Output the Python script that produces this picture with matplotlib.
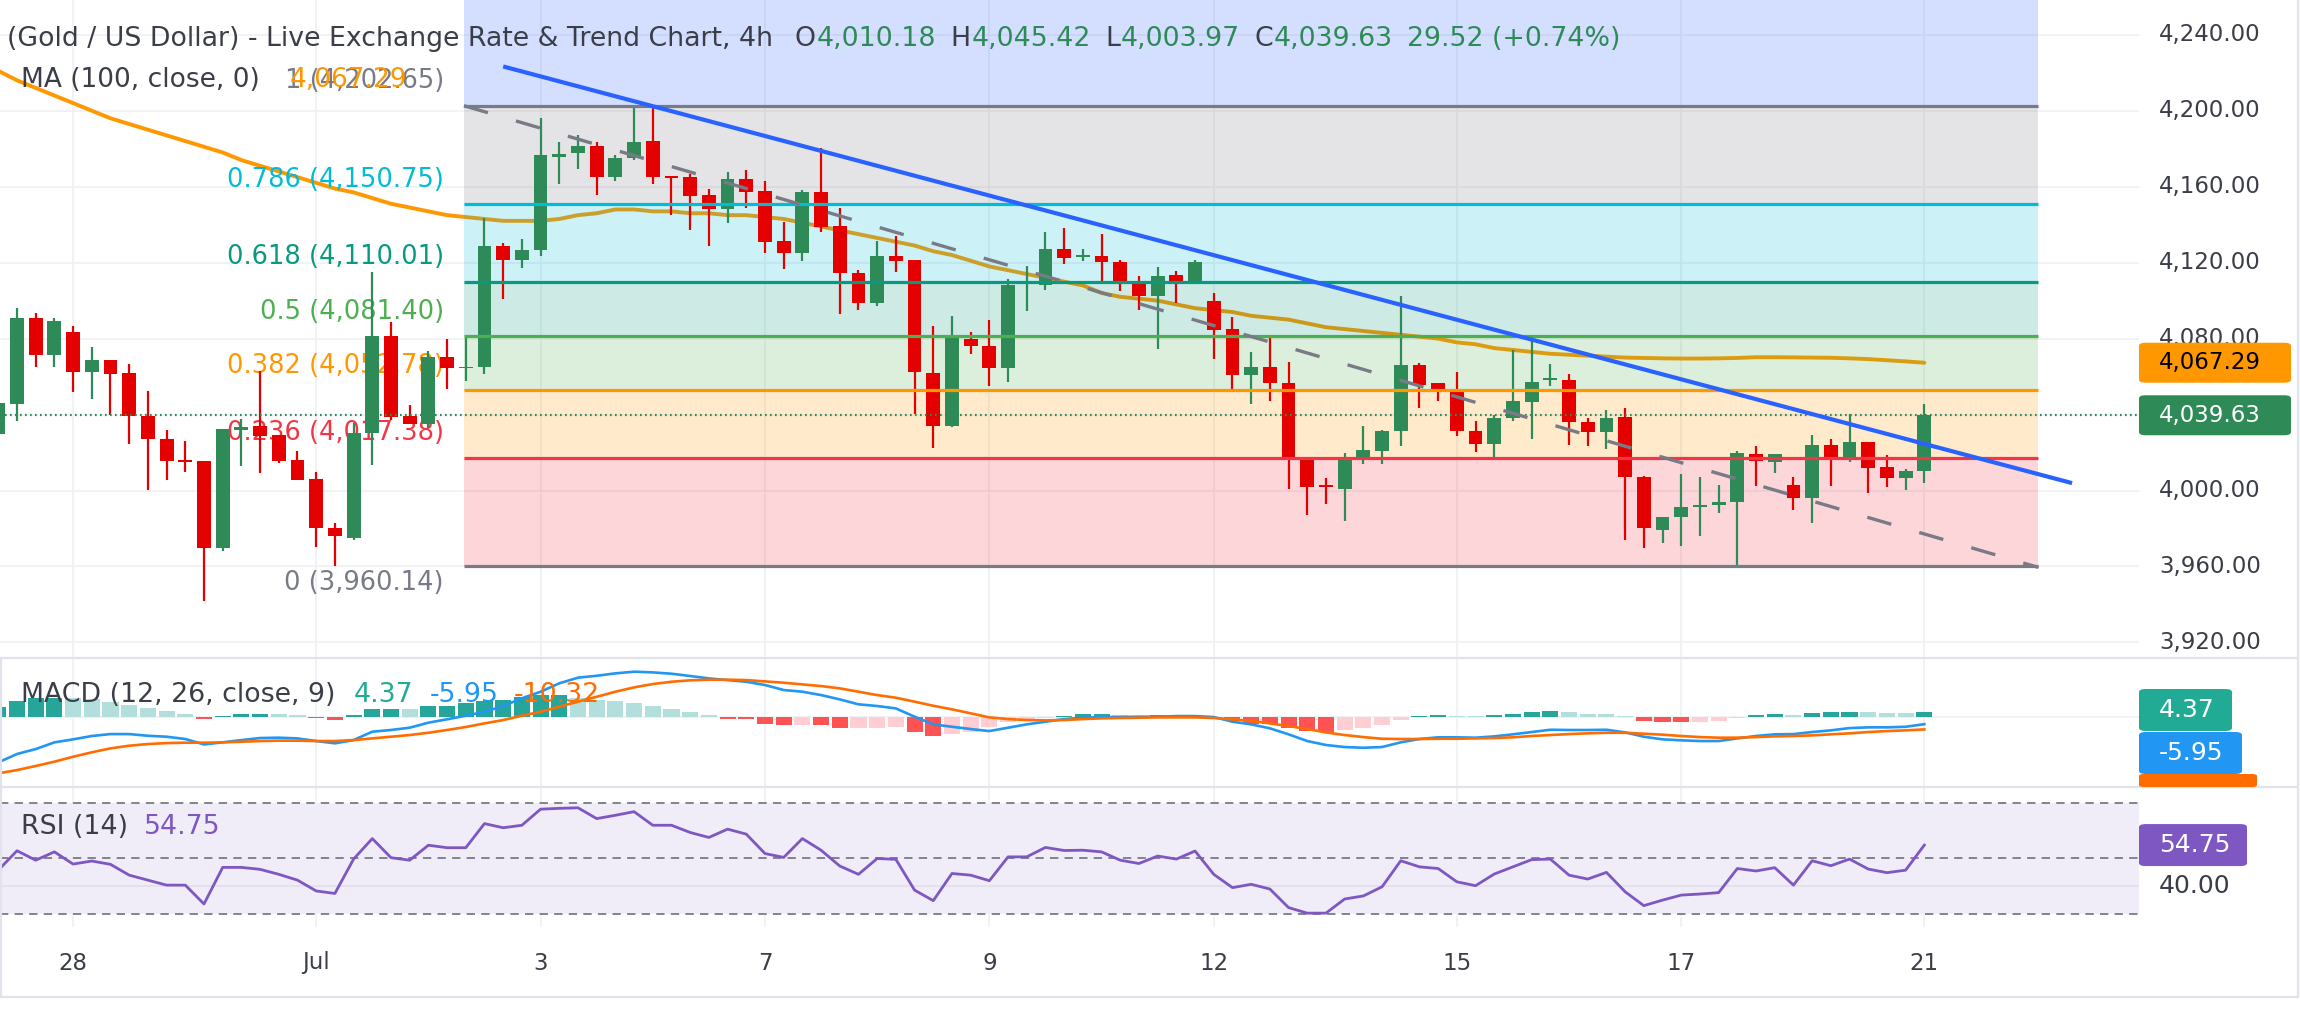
import matplotlib
matplotlib.use("Agg")
import matplotlib.pyplot as plt
import matplotlib.transforms as mtrans
from matplotlib.patches import FancyBboxPatch
from matplotlib.lines import Line2D

plt.rcParams['font.family'] = ['DejaVu Sans']
plt.rcParams['lines.scale_dashes'] = False

# ---------------- data ----------------
candle_idx = list(range(-1, 103))
opens = [4030.0, 4045.8, 4090.8, 4071.4, 4083.6, 4062.5, 4068.8, 4062.0, 4039.1, 4027.3,
         4015.9, 4015.3, 3969.5, 4032.0, 4033.9, 4029.3, 4016.2, 4006.3, 3980.4, 3974.9,
         4030.3, 4081.4, 4039.1, 4034.9, 4070.3, 4064.5, 4065.3, 4128.6, 4121.2, 4126.6,
         4175.5, 4177.8, 4181.5, 4164.9, 4175.0, 4184.0, 4165.5, 4164.9, 4155.6, 4148.4,
         4164.3, 4157.7, 4131.4, 4124.9, 4157.2, 4139.3, 4114.5, 4098.7, 4123.6, 4121.5,
         4062.0, 4034.0, 4080.0, 4076.3, 4064.4, 4108.9, 4108.3, 4127.2, 4123.5, 4123.6,
         4120.4, 4109.2, 4102.2, 4113.4, 4108.5, 4099.8, 4085.1, 4060.7, 4065.1, 4056.6,
         4016.0, 4002.5, 4000.8, 4016.7, 4020.7, 4031.2, 4066.2, 4056.6, 4052.9, 4031.4,
         4024.6, 4038.0, 4046.4, 4058.5, 4058.3, 4036.1, 4030.7, 4038.7, 4007.1, 3979.4,
         3986.1, 3991.4, 3992.5, 3994.0, 4019.4, 4015.0, 4002.8, 3995.8, 4024.2, 4016.9,
         4025.5, 4012.2, 4006.6, 4010.18]
highs = [4048.0, 4095.9, 4093.7, 4090.8, 4086.5, 4075.6, 4068.8, 4066.6, 4052.4, 4031.9,
         4026.2, 4015.3, 4032.5, 4037.6, 4063.1, 4029.3, 4020.8, 4009.6, 3982.8, 4035.8,
         4115.1, 4088.7, 4045.0, 4073.6, 4079.7, 4080.1, 4143.7, 4130.3, 4132.3, 4195.9,
         4183.4, 4187.1, 4183.4, 4176.5, 4202.5, 4202.8, 4165.5, 4166.5, 4158.7, 4167.7,
         4168.7, 4162.9, 4141.2, 4158.2, 4180.6, 4148.8, 4115.9, 4131.3, 4134.1, 4121.5,
         4086.8, 4092.0, 4083.5, 4090.0, 4111.3, 4118.3, 4136.2, 4138.4, 4127.1, 4135.1,
         4121.5, 4113.1, 4117.6, 4115.5, 4121.5, 4103.8, 4091.2, 4072.9, 4080.8, 4067.6,
         4017.8, 4006.8, 4019.5, 4034.2, 4032.1, 4102.3, 4067.0, 4056.6, 4062.3, 4036.6,
         4039.9, 4074.0, 4081.0, 4066.5, 4061.3, 4038.2, 4042.6, 4043.5, 4007.6, 3986.3,
         4008.9, 4007.3, 4002.8, 4020.8, 4023.7, 4019.0, 4007.3, 4029.0, 4026.9, 4040.5,
         4025.5, 4018.5, 4011.1, 4045.42]
lows = [4026.0, 4036.5, 4064.8, 4064.8, 4052.0, 4048.3, 4039.8, 4024.7, 4000.2, 4005.3,
        4010.0, 3941.7, 3968.4, 4012.7, 4009.0, 4014.6, 4005.3, 3970.3, 3960.1, 3974.0,
        4013.6, 4037.3, 4034.9, 4033.0, 4053.3, 4057.9, 4061.6, 4100.7, 4117.0, 4123.4,
        4161.3, 4169.2, 4155.7, 4163.1, 4174.0, 4161.5, 4145.3, 4137.2, 4128.8, 4141.1,
        4148.6, 4124.9, 4116.7, 4120.6, 4136.3, 4092.8, 4094.9, 4096.9, 4115.3, 4040.1,
        4022.4, 4033.5, 4072.1, 4055.0, 4057.1, 4094.4, 4105.7, 4119.4, 4120.9, 4108.9,
        4104.8, 4094.9, 4074.6, 4098.7, 4108.5, 4069.2, 4053.3, 4045.4, 4047.0, 4001.0,
        3987.2, 3992.8, 3984.1, 4013.8, 4013.8, 4023.4, 4043.3, 4046.9, 4028.6, 4020.2,
        4017.8, 4036.5, 4026.9, 4055.2, 4024.2, 4023.4, 4021.6, 3974.1, 3969.7, 3972.4,
        3971.0, 3975.9, 3988.1, 3960.1, 4002.4, 4009.0, 3989.8, 3982.8, 4002.4, 4014.9,
        3998.6, 4002.1, 4000.3, 4003.97]
closes = [4046.0, 4090.8, 4071.4, 4089.3, 4062.5, 4068.8, 4061.6, 4039.1, 4026.9, 4015.3,
          4015.4, 3969.5, 4032.5, 4033.6, 4028.9, 4015.7, 4005.3, 3980.1, 3975.8, 4030.3,
          4081.4, 4038.6, 4034.9, 4070.3, 4064.4, 4064.9, 4128.6, 4121.2, 4126.6, 4176.6,
          4177.0, 4181.5, 4164.9, 4175.0, 4183.4, 4165.2, 4165.0, 4155.2, 4148.4, 4164.0,
          4157.3, 4131.1, 4124.9, 4157.2, 4139.0, 4114.8, 4098.7, 4123.6, 4121.1, 4062.3,
          4034.0, 4080.5, 4076.0, 4064.4, 4108.3, 4109.6, 4127.2, 4122.7, 4123.8, 4120.1,
          4109.2, 4102.2, 4113.1, 4108.5, 4120.4, 4084.3, 4060.7, 4065.1, 4056.5, 4016.2,
          4001.9, 4002.0, 4016.7, 4021.1, 4031.6, 4066.2, 4055.3, 4052.9, 4031.2, 4024.6,
          4038.2, 4046.9, 4057.1, 4058.7, 4035.9, 4030.7, 4038.2, 4007.1, 3980.0, 3985.8,
          3991.4, 3992.5, 3994.2, 4019.5, 4015.5, 4019.0, 3995.8, 4024.2, 4016.9, 4025.5,
          4011.7, 4006.6, 4010.1, 4039.63]
ma100 = [4221, 4216, 4212, 4208, 4204, 4200, 4196, 4193, 4190, 4187,
         4184, 4181, 4178, 4174, 4171, 4168, 4165, 4162, 4159, 4157,
         4154, 4151, 4149, 4147, 4145, 4144, 4143, 4142, 4142, 4142,
         4143, 4145, 4146, 4148, 4148, 4147, 4147, 4146, 4146, 4145,
         4145, 4144, 4143, 4141, 4139, 4137, 4135, 4133, 4131, 4129,
         4126, 4124, 4121, 4118, 4116, 4114, 4112, 4110, 4108, 4104,
         4102, 4101, 4100, 4098, 4096, 4095, 4094, 4092, 4091, 4090,
         4088, 4086, 4085, 4084, 4083, 4082, 4081, 4080, 4078, 4077,
         4075, 4074, 4073, 4072, 4071.5, 4071, 4070.5, 4070, 4069.8, 4069.6,
         4069.5, 4069.5, 4069.6, 4069.8, 4070.2, 4070.2, 4070.1, 4070.0, 4069.9, 4069.6,
         4069.2, 4068.6, 4068.0, 4067.29]
macd_line = [-37.8, -30.8, -26.7, -21.1, -18.6, -15.8, -14.2, -14.2, -15.6, -16.4,
             -18.3, -22.8, -21.1, -19.2, -17.5, -17.2, -17.8, -20.0, -21.9, -19.2,
             -12.2, -10.8, -8.9, -4.7, -1.9, 1.1, 4.4, 9.2, 15.6, 21.1,
             28.1, 32.8, 34.4, 36.4, 37.8, 37.2, 36.1, 34.2, 32.2, 30.8,
             29.4, 26.7, 22.5, 21.1, 18.3, 14.7, 10.6, 9.2, 7.2, 0.3,
             -6.1, -8.1, -10.0, -11.7, -8.9, -6.1, -3.9, -1.7, -0.6, 0.0,
             0.0, 0.3, 0.3, 0.8, 0.8, 0.0, -3.9, -6.1, -9.4, -14.4,
             -20.0, -23.3, -25.0, -25.6, -25.0, -21.1, -18.3, -16.9, -16.9, -17.2,
             -16.1, -14.4, -12.5, -10.6, -10.8, -10.8, -10.6, -12.8, -16.4, -18.6,
             -19.4, -20.0, -20.0, -17.8, -15.8, -14.4, -14.2, -12.5, -11.1, -9.2,
             -8.6, -8.6, -8.1, -5.95]
signal_line = [-46.9, -44.2, -40.8, -37.2, -33.1, -29.4, -26.1, -23.9, -22.5, -21.7,
               -21.4, -21.4, -21.1, -20.6, -20.0, -19.7, -19.7, -20.0, -20.0, -19.2,
               -17.8, -16.4, -15.0, -13.1, -10.8, -8.3, -5.3, -2.5, 1.1, 4.4,
               8.6, 12.8, 16.9, 21.1, 24.7, 27.5, 29.4, 30.6, 31.1, 31.1,
               30.8, 29.7, 28.6, 27.2, 25.8, 23.9, 21.1, 18.3, 16.1, 12.8,
               9.4, 6.4, 3.1, -0.3, -1.7, -2.5, -2.8, -2.5, -1.7, -1.1,
               -0.8, -0.6, -0.3, -0.3, -0.3, -0.8, -1.9, -3.3, -5.3, -7.5,
               -10.0, -12.8, -15.0, -16.7, -18.1, -18.3, -18.3, -18.1, -18.1, -17.8,
               -17.5, -16.9, -15.8, -15.0, -14.2, -13.6, -13.1, -13.1, -13.9, -14.7,
               -15.8, -16.7, -17.2, -17.2, -16.7, -16.1, -15.8, -15.3, -14.4, -13.6,
               -12.5, -11.7, -11.1, -10.32]
macd_hist = [8.6, 13.3, 15.5, 15.8, 15.5, 14.7, 12.8, 10.0, 7.2, 5.3,
             2.5, -1.4, 0.8, 2.5, 2.6, 2.4, 1.4, -0.8, -2.5, 1.4,
             6.7, 6.8, 6.6, 9.4, 9.5, 11.4, 13.3, 14.2, 16.4, 18.3,
             18.4, 15.6, 14.2, 13.6, 11.4, 9.2, 6.7, 4.2, 1.9, -1.4,
             -1.9, -5.5, -6.9, -6.4, -7.0, -9.2, -9.0, -8.8, -8.5, -12.5,
             -15.8, -14.2, -12.5, -8.3, -4.5, -2.0, -1.0, 0.6, 2.2, 2.3,
             2.0, 1.1, 1.4, 1.1, 0.6, -1.5, -3.6, -5.6, -5.7, -9.2,
             -11.9, -12.5, -11.1, -9.2, -6.9, -2.8, 1.1, 1.4, 1.2, 0.6,
             1.4, 2.2, 3.9, 4.7, 3.9, 2.8, 2.2, 0.8, -3.3, -4.2,
             -4.3, -4.0, -3.3, -1.1, 1.4, 2.2, 1.4, 3.1, 3.9, 4.0,
             3.8, 3.1, 3.0, 4.37]
rsi14 = [45.7, 52.7, 49.3, 52.3, 47.9, 49.0, 47.8, 43.9, 42.1, 40.3,
         40.3, 33.5, 46.7, 46.7, 46.0, 44.2, 42.1, 38.2, 37.3, 49.7,
         57.1, 50.2, 49.3, 54.7, 53.8, 53.8, 62.5, 61.0, 61.9, 67.7,
         68.0, 68.2, 64.3, 65.5, 66.8, 61.9, 61.9, 59.3, 57.5, 60.5,
         58.7, 51.7, 50.3, 57.1, 52.9, 47.2, 44.2, 49.9, 49.6, 38.5,
         34.7, 44.5, 43.9, 41.9, 50.5, 50.5, 53.9, 52.8, 52.9, 52.3,
         49.3, 48.1, 50.8, 49.7, 52.6, 44.2, 39.4, 40.6, 38.9, 32.2,
         30.2, 30.2, 35.3, 36.4, 39.7, 49.1, 46.9, 46.3, 41.5, 40.1,
         44.3, 46.9, 49.5, 49.7, 43.9, 42.5, 44.9, 37.9, 32.9, 34.9,
         36.7, 37.1, 37.6, 46.3, 45.4, 46.6, 40.3, 49.1, 47.3, 49.7,
         46.1, 44.8, 45.7, 54.75]

date_tick_idx = [3, 16, 28, 40, 52, 64, 77, 89, 102]
date_tick_labels = ["28", "Jul", "3", "7", "9", "12", "15", "17", "21"]
price_ticks = [3920, 3960, 4000, 4040, 4080, 4120, 4160, 4200, 4240]

fib_ratios = [0, 0.236, 0.382, 0.5, 0.618, 0.786, 1]
fib_prices = [3960.14, 4017.38, 4052.78, 4081.40, 4110.01, 4150.75, 4202.65]
fib_ext_price = 4352.53          # 1.618 level (off-screen, only its fill shows)
fib_x = [23.9, 108.1]
trend_x = [26.0, 109.9]
trend_y = [4223.3, 4003.9]
channel_x = [23.9, 108.1]
channel_y = [4202.65, 3959.5]

title_text = "(Gold / US Dollar) - Live Exchange Rate & Trend Chart, 4h"
ohlc_labels = ["O", "H", "L", "C"]
ohlc_values = ["4,010.18", "4,045.42", "4,003.97", "4,039.63"]
change_text = "29.52 (+0.74%)"
ma_legend = "MA (100, close, 0)"
macd_legend = "MACD (12, 26, close, 9)"
rsi_legend = "RSI (14)"

# ---------------- styles ----------------
UP = '#2e8b57'
DN = '#e50000'
TXT = '#3b3e48'
GRID = '#eef0f5'
SEP = '#e0e3eb'
fib_colors = ['#787b86', '#f23645', '#ff9800', '#4caf50', '#089981', '#00bcd4', '#787b86']
fib_ext_color = '#2962ff'

W, H = 2300, 1030
fig = plt.figure(figsize=(W / 100, H / 100), dpi=100)
fig.patch.set_facecolor('white')

PR = 2139
def fx(px):
    return px / W
def fy(py):
    return 1 - py / H

ax = fig.add_axes([0, fy(658), fx(PR), 658 / H])
axm = fig.add_axes([0, fy(787), fx(PR), (787 - 658) / H])
axr = fig.add_axes([0, fy(927), fx(PR), (927 - 787) / H])

XL = (-0.909, 113.48)
for a in (ax, axm, axr):
    a.set_xlim(*XL)
    a.set_xticks([])
    a.set_yticks([])
    for s in a.spines.values():
        s.set_visible(False)
    a.patch.set_alpha(0)
    for xi in date_tick_idx:
        a.axvline(xi, color=GRID, lw=1.2, zorder=0.2)

ax.set_ylim(3911.8, 4258.3)
axm.set_ylim(-58.3, 49.2)
axr.set_ylim(25.2, 75.7)

# ---------- main pane ----------
for p in price_ticks:
    ax.axhline(p, color=GRID, lw=1.2, zorder=0.2)

ax.plot(candle_idx, ma100, color='#ff9800', lw=2.8, zorder=1.5, solid_capstyle='round')

# fib fills
fill_bounds = fib_prices + [fib_ext_price]
fill_cols = fib_colors[1:] + [fib_ext_color]
for i in range(len(fill_bounds) - 1):
    ax.fill_between(fib_x, fill_bounds[i], fill_bounds[i + 1], color=fill_cols[i],
                    alpha=0.2, lw=0, zorder=2)
for r, p, c in zip(fib_ratios, fib_prices, fib_colors):
    ax.plot(fib_x, [p, p], color=c, lw=2.3, zorder=4, solid_capstyle='butt')
    lab = "%g (%s)" % (r, format(p, ',.2f'))
    dy = -12 if r == 0 else 17.5
    ax.annotate(lab, xy=(fib_x[0], p), xytext=(-14.5, dy), textcoords='offset points',
                ha='right', va='center', color=c, fontsize=18.5, zorder=2.5,
                annotation_clip=False)

# candles
for x, o, h, l, c in zip(candle_idx, opens, highs, lows, closes):
    col = UP if c >= o else DN
    ax.plot([x, x], [l, h], color=col, lw=1.6, zorder=3, solid_capstyle='butt')
    lo, hi = min(o, c), max(o, c)
    if hi - lo < 0.9:
        mid = (hi + lo) / 2
        lo, hi = mid - 0.45, mid + 0.45
    ax.bar(x, hi - lo, bottom=lo, width=0.74, color=col, lw=0, zorder=3.1)

# last price dotted line
ax.axhline(closes[-1], color=UP, lw=1.6, ls=(0, (1.2, 2.4)), zorder=3.5)

# trend lines
ax.plot(trend_x, trend_y, color='#2962ff', lw=3.0, zorder=5, solid_capstyle='butt')
ax.plot(channel_x, channel_y, color='#787b86', lw=2.4, zorder=5, dashes=(18, 21))

# ---------- MACD pane ----------
axm.axhline(0, color=GRID, lw=1.2, zorder=0.2)
hcols = []
for i, v in enumerate(macd_hist):
    prev = macd_hist[i - 1] if i > 0 else v
    if v >= 0:
        hcols.append('#26a69a' if v >= prev else '#b2dfdb')
    else:
        hcols.append('#ff5252' if v <= prev else '#ffcdd2')
axm.bar(candle_idx, macd_hist, width=0.86, color=hcols, lw=0, zorder=1)
axm.plot(candle_idx, macd_line, color='#2196f3', lw=1.9, zorder=2)
axm.plot(candle_idx, signal_line, color='#ff6d00', lw=1.9, zorder=2)

# ---------- RSI pane ----------
axr.axhspan(30, 70, color='#7e57c2', alpha=0.11, lw=0, zorder=0.1)
axr.axhline(40, color='#e2dfea', lw=1.2, zorder=0.3)
for lvl in (70, 50, 30):
    axr.axhline(lvl, color='#787b86', lw=1.3, dashes=(6, 4.5), zorder=1)
axr.plot(candle_idx, rsi14, color='#7e57c2', lw=2.0, zorder=2)

# ---------- separators / borders ----------
for yy in (658, 787, 997):
    fig.add_artist(Line2D([0, fx(2298)], [fy(yy), fy(yy)], color=SEP, lw=1.6,
                          transform=fig.transFigure))
fig.add_artist(Line2D([fx(2298), fx(2298)], [fy(0), fy(997)], color=SEP, lw=1.6,
                      transform=fig.transFigure))
fig.add_artist(Line2D([fx(0.8), fx(0.8)], [fy(658), fy(997)], color=SEP, lw=1.6,
                      transform=fig.transFigure))

# ---------- right axis ----------
tr_main = mtrans.blended_transform_factory(fig.transFigure, ax.transData)
for p in price_ticks:
    fig.text(fx(2159), p, format(p, ',.2f'), transform=tr_main, fontsize=16.5,
             color=TXT, va='center', ha='left')

def to_figy(axis, v):
    return fig.transFigure.inverted().transform(axis.transData.transform((0, v)))[1]

def box(yc, x1, hpx, fc, text, tc, fs):
    y0 = yc - hpx / 2 / H
    patch = FancyBboxPatch((fx(PR), y0), fx(x1 - PR), hpx / H,
                           boxstyle="round,pad=0,rounding_size=0.003",
                           transform=fig.transFigure, fc=fc, ec='none', zorder=10)
    fig.add_artist(patch)
    if text:
        fig.text(fx(2159), yc, text, color=tc, fontsize=fs, va='center', ha='left', zorder=11)

box(to_figy(ax, ma100[-1]), 2291, 40, '#ff9800', format(ma100[-1], ',.2f'), '#000000', 16.5)
box(to_figy(ax, closes[-1]), 2291, 40, UP, format(closes[-1], ',.2f'), 'white', 16.5)

box(fy(710), 2232, 42, '#22ab94', "%.2f" % macd_hist[-1], 'white', 18)
box(fy(753), 2242, 42, '#2196f3', "%.2f" % macd_line[-1], 'white', 18)
fig.add_artist(FancyBboxPatch((fx(PR), fy(787)), fx(2257 - PR), 13 / H,
                              boxstyle="round,pad=0,rounding_size=0.002",
                              transform=fig.transFigure, fc='#ff6d00', ec='none', zorder=10))
box(to_figy(axr, rsi14[-1]), 2247, 42, '#7e57c2', "%.2f" % rsi14[-1], 'white', 18)
fig.text(fx(2159), to_figy(axr, 40), "40.00", color=TXT, fontsize=18, va='center', ha='left')

# ---------- time axis ----------
tr_time = mtrans.blended_transform_factory(ax.transData, fig.transFigure)
for xi, lab in zip(date_tick_idx, date_tick_labels):
    fig.text(xi, fy(963), lab, transform=tr_time, ha='center', va='center',
             fontsize=16.5, color=TXT)

# ---------- legends ----------
fig.canvas.draw()
renderer = fig.canvas.get_renderer()

def chain(x, y, pieces, fs):
    for s, c, gap in pieces:
        x += gap
        t = fig.text(fx(x), fy(y), s, color=c, fontsize=fs, va='center', ha='left', zorder=12)
        bb = t.get_window_extent(renderer)
        x += bb.width

title_pieces = [(title_text, TXT, 0)]
for k, (lab, val) in enumerate(zip(ohlc_labels, ohlc_values)):
    title_pieces.append((lab, TXT, 22 if k == 0 else 14))
    title_pieces.append((val, UP, 1))
title_pieces.append((change_text, UP, 14))
chain(7, 39, title_pieces, 19.3)

chain(21, 80, [(ma_legend, TXT, 0), (format(ma100[-1], ',.2f'), '#ff9800', 30)], 19.0)
chain(21, 695, [(macd_legend, TXT, 0), ("%.2f" % macd_hist[-1], '#22ab94', 18),
                ("%.2f" % macd_line[-1], '#2196f3', 17),
                ("%.2f" % signal_line[-1], '#ff6d00', 15)], 19.3)
chain(21, 827, [(rsi_legend, TXT, 0), ("%.2f" % rsi14[-1], '#7e57c2', 16)], 19.3)

fig.savefig("out.png", dpi=100, facecolor='white')
